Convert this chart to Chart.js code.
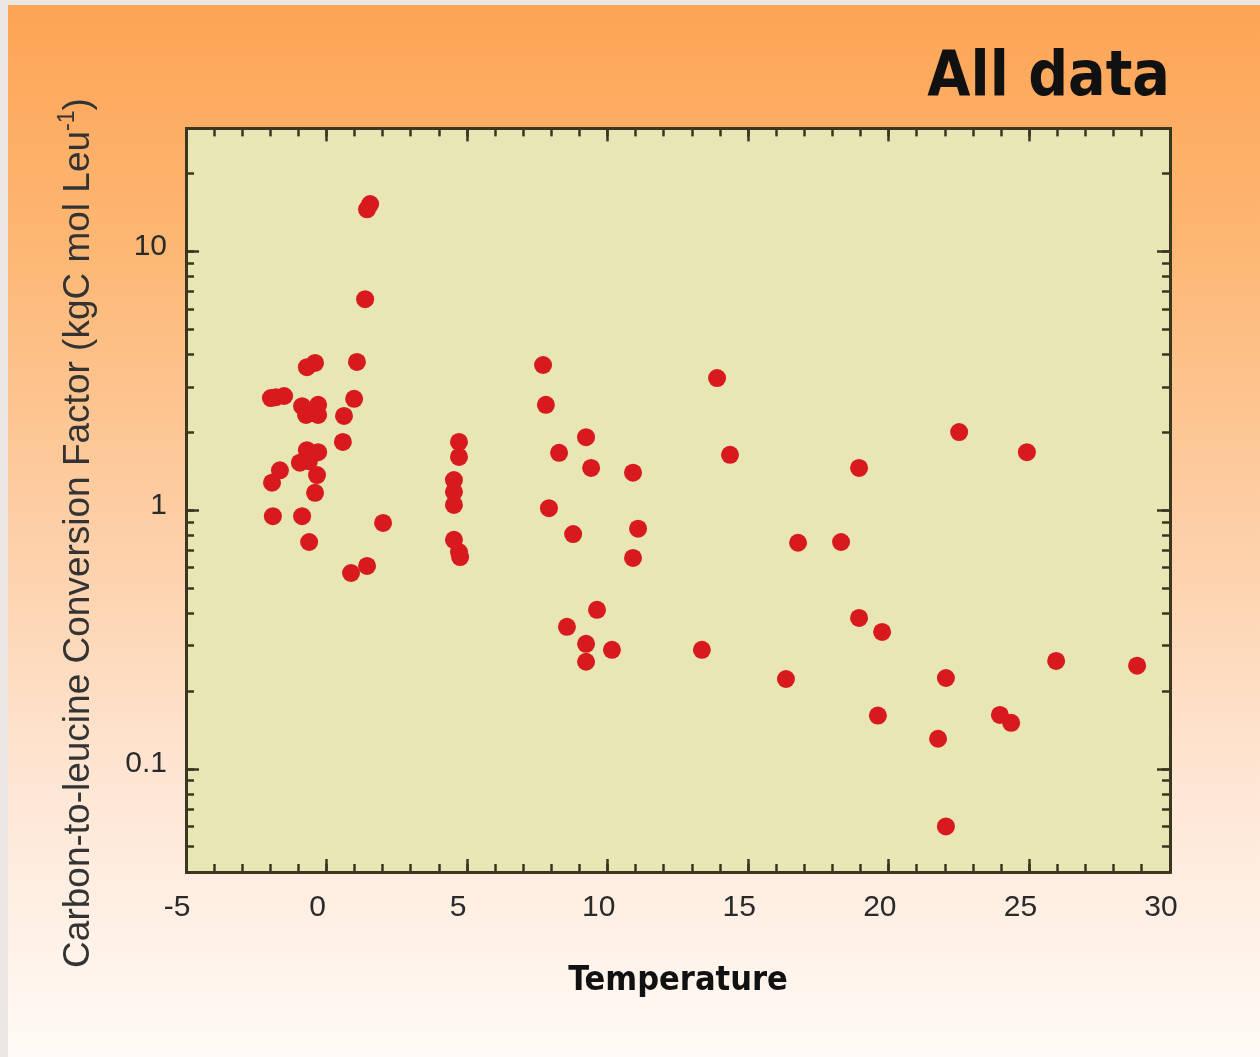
<!DOCTYPE html>
<html>
<head>
<meta charset="utf-8">
<title>Carbon-to-leucine conversion factor vs temperature</title>
<script src="https://cdn.jsdelivr.net/npm/chart.js@4.4.1/dist/chart.umd.min.js"></script>
<style>
  html, body { margin: 0; padding: 0; width: 1260px; height: 1057px; overflow: hidden; background: #ebe8e4; }
  #slide {
    position: absolute; left: 8px; top: 5px; width: 1252px; height: 1052px;
    background: linear-gradient(180deg, #fda455 0%, #fdb672 22%, #fdcda3 48%, #fee6d4 74%, #fffaf6 100%);
  }
  #chart { position: absolute; left: 0; top: 0; }
</style>
</head>
<body>
<div id="slide"></div>
<canvas id="chart" width="1260" height="1057"></canvas>
<script>
// Water temperature of each sample
const temperature = [
  1.55, 1.44, 1.37, 1.08, -0.70, -0.41, -1.98, -1.80, -1.51, -0.87,
  -0.30, -0.73, -0.30, 0.98, 0.62, 0.58, -0.70, -0.30, -0.95, -0.63,
  -0.34, -0.41, -1.66, -1.94, -1.91, -0.87, -0.62, 2.01, 0.87, 1.44,
  4.71, 4.71, 4.53, 4.53, 4.53, 4.53, 4.71, 4.75,
  7.70, 7.80, 9.23, 8.27, 9.41, 10.90, 7.91, 8.77, 11.08, 10.90,
  9.62, 8.55, 9.23, 9.23, 10.15,
  13.89, 14.35, 18.94, 16.77, 18.30, 18.94, 19.76, 13.35, 16.34, 19.61,
  22.50, 24.91, 25.95, 28.83, 22.03, 23.95, 24.35, 21.75, 22.03
];

// Carbon-to-leucine conversion factor, kgC mol Leu-1 (same order)
const conversionFactor = [
  15.3, 14.6, 6.56, 3.75, 3.58, 3.72, 2.72, 2.74, 2.77, 2.53,
  2.56, 2.34, 2.34, 2.70, 2.32, 1.84, 1.71, 1.68, 1.53, 1.55,
  1.37, 1.17, 1.43, 1.28, 0.95, 0.95, 0.755, 0.895, 0.573, 0.610,
  1.84, 1.61, 1.31, 1.18, 1.05, 0.77, 0.69, 0.66,
  3.65, 2.56, 1.92, 1.67, 1.46, 1.40, 1.02, 0.81, 0.85, 0.655,
  0.413, 0.355, 0.305, 0.260, 0.289,
  3.25, 1.64, 1.46, 0.75, 0.755, 0.384, 0.339, 0.289, 0.223, 0.161,
  2.01, 1.68, 0.262, 0.251, 0.225, 0.162, 0.151, 0.131, 0.060
];

// Tick marks and the ticks that carry a label
const xTicks = [-5, -4, -3, -2, -1, 0, 1, 2, 3, 4, 5, 6, 7, 8, 9, 10, 11, 12, 13, 14, 15,
  16, 17, 18, 19, 20, 21, 22, 23, 24, 25, 26, 27, 28, 29, 30];
const xMajorTicks = [-5, 0, 5, 10, 15, 20, 25, 30];
const yTicks = [0.05, 0.06, 0.07, 0.08, 0.09, 0.1, 0.2, 0.3, 0.4, 0.5, 0.6, 0.7, 0.8, 0.9,
  1, 2, 3, 4, 5, 6, 7, 8, 9, 10, 20];
const yMajorTicks = [0.1, 1, 10];

const X_MIN = -5, X_MAX = 30;
const Y_MIN = 0.04, Y_MAX = 30;

const frameColor = '#3a3620';
const textColor = '#2a2a2a';
const sansFamily = '"Liberation Sans", Arial, Helvetica, sans-serif';
const headFamily = '"DejaVu Sans Condensed", "DejaVu Sans", sans-serif';

const points = temperature.map((t, i) => ({ x: t, y: conversionFactor[i] }));

const useTicks = values => scale => { scale.ticks = values.map(value => ({ value })); };

// An axis that only draws inward tick marks along one edge of the plot
function markAxis(position, type, min, max, values, length, border) {
  const horizontal = position === 'top' || position === 'bottom';
  return {
    type, position, min, max,
    axis: horizontal ? 'x' : 'y',
    weight: -1,
    afterBuildTicks: useTicks(values),
    afterFit: scale => { if (horizontal) scale.height = 0; else scale.width = 0; },
    ticks: { display: false, autoSkip: false },
    grid: { drawOnChartArea: false, tickLength: -length, tickWidth: 2.5, tickColor: frameColor },
    border: border ? { display: true, width: 3, color: frameColor } : { display: false }
  };
}

// Pale plot background
const plotBackground = {
  id: 'plotBackground',
  beforeDraw(chart) {
    const { ctx, chartArea: a } = chart;
    ctx.save();
    ctx.fillStyle = '#e8e6b5';
    ctx.fillRect(a.left, a.top, a.right - a.left, a.bottom - a.top);
    ctx.restore();
  }
};

// Rotated y axis title with a superscript unit
const yAxisTitle = {
  id: 'yAxisTitle',
  afterDraw(chart) {
    const ctx = chart.ctx;
    const main = 'Carbon-to-leucine Conversion Factor (kgC mol Leu';
    const sup = '-1';
    const close = ')';
    const big = '37px ' + sansFamily;
    const small = '23px ' + sansFamily;
    ctx.save();
    ctx.translate(79, 533);
    ctx.rotate(-Math.PI / 2);
    ctx.fillStyle = '#333333';
    ctx.textBaseline = 'middle';
    ctx.font = big;
    const w1 = ctx.measureText(main).width;
    const w3 = ctx.measureText(close).width;
    ctx.font = small;
    const w2 = ctx.measureText(sup).width;
    let x = -(w1 + w2 + w3) / 2;
    ctx.font = big;
    ctx.fillText(main, x, 0);
    x += w1;
    ctx.font = small;
    ctx.fillText(sup, x, -11);
    x += w2;
    ctx.font = big;
    ctx.fillText(close, x, 0);
    ctx.restore();
  }
};

new Chart(document.getElementById('chart'), {
  type: 'scatter',
  data: {
    datasets: [{
      data: points,
      backgroundColor: '#d8191e',
      borderWidth: 0,
      pointRadius: 9,
      pointHoverRadius: 9
    }]
  },
  plugins: [plotBackground, yAxisTitle],
  options: {
    responsive: false,
    animation: false,
    layout: { padding: { left: 0, right: 90, top: 0, bottom: 0 } },
    plugins: {
      legend: { display: false },
      tooltip: { enabled: false },
      title: {
        display: true,
        text: 'All data',
        align: 'end',
        color: '#111111',
        font: { family: headFamily, size: 62, weight: 'bold' },
        padding: { top: 42, bottom: 12 }
      }
    },
    scales: {
      x: {
        type: 'linear', position: 'bottom', min: X_MIN, max: X_MAX,
        afterBuildTicks: useTicks(xTicks),
        afterFit: scale => { scale.height = 185; },
        ticks: {
          autoSkip: false, minRotation: 0, maxRotation: 0,
          padding: 26, labelOffset: -9,
          color: textColor, font: { family: sansFamily, size: 30 },
          callback: v => xMajorTicks.includes(v) ? String(v) : ''
        },
        grid: { drawOnChartArea: false, tickLength: -8, tickWidth: 2.5, tickColor: frameColor },
        border: { display: true, width: 3, color: frameColor },
        title: {
          display: true, text: 'Temperature', color: '#111111',
          font: { family: headFamily, size: 34, weight: 'bold' },
          padding: { top: 0, bottom: 55 }
        }
      },
      y: {
        type: 'logarithmic', position: 'left', min: Y_MIN, max: Y_MAX,
        afterBuildTicks: useTicks(yTicks),
        afterFit: scale => { scale.width = 186; },
        ticks: {
          autoSkip: false, padding: 27, labelOffset: -5,
          color: textColor, font: { family: sansFamily, size: 30 },
          callback: v => yMajorTicks.includes(v) ? String(v) : ''
        },
        grid: { drawOnChartArea: false, tickLength: -8, tickWidth: 2.5, tickColor: frameColor },
        border: { display: true, width: 3, color: frameColor }
      },
      xMajor: markAxis('bottom', 'linear', X_MIN, X_MAX, xMajorTicks, 13, false),
      xTop: markAxis('top', 'linear', X_MIN, X_MAX, xTicks, 8, true),
      xTopMajor: markAxis('top', 'linear', X_MIN, X_MAX, xMajorTicks, 13, false),
      yMajor: markAxis('left', 'logarithmic', Y_MIN, Y_MAX, yMajorTicks, 13, false),
      yRight: markAxis('right', 'logarithmic', Y_MIN, Y_MAX, yTicks, 8, true),
      yRightMajor: markAxis('right', 'logarithmic', Y_MIN, Y_MAX, yMajorTicks, 13, false)
    }
  }
});
</script>
</body>
</html>
